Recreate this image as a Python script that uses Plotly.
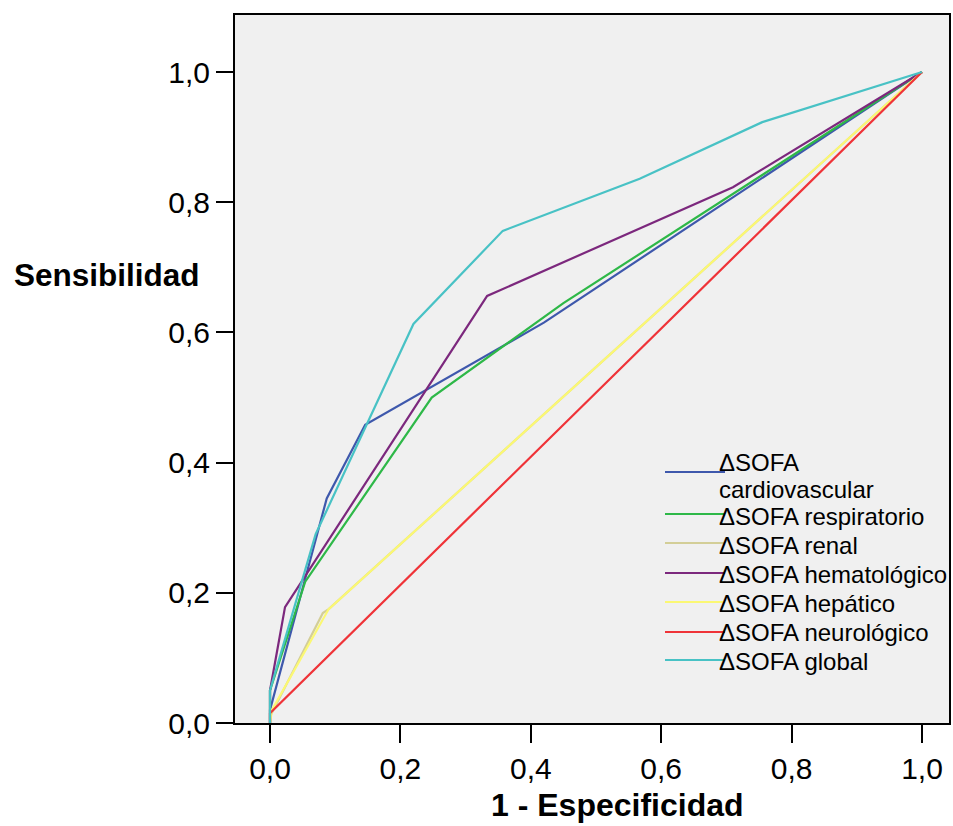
import plotly.graph_objects as go

# ---- data ----
series_names = [
    "ΔSOFA cardiovascular",
    "ΔSOFA respiratorio",
    "ΔSOFA renal",
    "ΔSOFA hematológico",
    "ΔSOFA hepático",
    "ΔSOFA neurológico",
    "ΔSOFA global",
]
legend_labels = [
    ["ΔSOFA", "cardiovascular"],
    ["ΔSOFA respiratorio"],
    ["ΔSOFA renal"],
    ["ΔSOFA hematológico"],
    ["ΔSOFA hepático"],
    ["ΔSOFA neurológico"],
    ["ΔSOFA global"],
]
cardio_x = [0.0, 0.0, 0.087, 0.146, 0.42, 1.0]
cardio_y = [0.0, 0.02, 0.345, 0.458, 0.615, 1.0]

resp_x = [0.0, 0.0, 0.054, 0.248, 0.45, 1.0]
resp_y = [0.0, 0.05, 0.217, 0.50, 0.645, 1.0]

renal_x = [0.0, 0.0, 0.081, 0.09, 1.0]
renal_y = [0.0, 0.01, 0.169, 0.175, 1.0]

hemat_x = [0.0, 0.0, 0.023, 0.333, 0.71, 1.0]
hemat_y = [0.0, 0.05, 0.178, 0.656, 0.823, 1.0]

hepat_x = [0.0, 0.003, 0.09, 1.0]
hepat_y = [0.0, 0.02, 0.175, 1.0]

neuro_x = [0.0, 0.0, 1.0]
neuro_y = [0.0, 0.015, 1.0]

global_x = [0.0, 0.0, 0.07, 0.146, 0.22, 0.357, 0.567, 0.755, 1.0]
global_y = [0.0, 0.05, 0.29, 0.455, 0.613, 0.756, 0.836, 0.923, 1.0]

tick_vals = [0.0, 0.2, 0.4, 0.6, 0.8, 1.0]
tick_text = ["0,0", "0,2", "0,4", "0,6", "0,8", "1,0"]

colors = ["#3E58AC", "#2EB848", "#D3CE97", "#7C287D", "#FBF873", "#EF3338", "#48C2C5"]

xs = [cardio_x, resp_x, renal_x, hemat_x, hepat_x, neuro_x, global_x]
ys = [cardio_y, resp_y, renal_y, hemat_y, hepat_y, neuro_y, global_y]

fig = go.Figure()
for name, x, y, c in zip(series_names, xs, ys, colors):
    fig.add_trace(go.Scatter(x=x, y=y, mode="lines", name=name,
                             line=dict(color=c, width=2.2), showlegend=False))

font_family = "Liberation Sans, Arial, sans-serif"

# figure fills the window (body margin removed in post_script)
W, H = 953, 826
L, T, R, B = 235, 15, 4, 103
pw, ph = W - L - R, H - T - B


def px_x(p):  # screen pixel -> paper x
    return (p - L) / pw


def px_y(p):  # screen pixel -> paper y
    return (H - B - p) / ph


fig.update_layout(
    width=W, height=H,
    margin=dict(l=L, r=R, t=T, b=B, autoexpand=False),
    paper_bgcolor="white",
    plot_bgcolor="#F0F0F0",
    font=dict(family=font_family, color="black"),
    showlegend=False,
)

fig.update_xaxes(
    range=[-0.0537, 1.0414], automargin=False,
    tickvals=tick_vals, ticktext=tick_text,
    ticks="outside", ticklen=18, tickwidth=2, tickcolor="black",
    tickfont=dict(size=30, family=font_family, color="black"),
    showline=True, linecolor="black", linewidth=2, mirror=True,
    showgrid=False, zeroline=False,
)
fig.update_yaxes(
    range=[0.0, 1.0876], automargin=False,
    tickvals=tick_vals, ticktext=tick_text,
    ticks="outside", ticklen=17, tickwidth=2, tickcolor="black",
    tickfont=dict(size=30, family=font_family, color="black"),
    showline=True, linecolor="black", linewidth=2, mirror=True,
    showgrid=False, zeroline=False,
)

fig.add_annotation(
    text="<b>Sensibilidad</b>", xref="paper", yref="paper",
    x=px_x(12), y=px_y(275), xanchor="left", yanchor="middle", showarrow=False,
    font=dict(size=31.5, family=font_family, color="black"),
)
fig.add_annotation(
    text="<b>1 - Especificidad</b>", xref="paper", yref="paper",
    x=px_x(617), y=px_y(805), xanchor="center", yanchor="middle", showarrow=False,
    font=dict(size=32, family=font_family, color="black"),
)

# hand-built legend: line sample y and text-line centre y (screen pixels)
legend_line_y = [472, 514, 543, 573, 602, 632, 660]
legend_text_y = [[462, 489], [516], [545], [574], [603], [632], [661]]
for labels, c, ly, tys in zip(legend_labels, colors, legend_line_y, legend_text_y):
    fig.add_shape(type="line", xref="paper", yref="paper",
                  x0=px_x(665), x1=px_x(725), y0=px_y(ly), y1=px_y(ly),
                  line=dict(color=c, width=2))
    for lab, ty in zip(labels, tys):
        fig.add_annotation(
            text=lab, xref="paper", yref="paper",
            x=px_x(717), y=px_y(ty), xanchor="left", yanchor="middle",
            align="left", showarrow=False,
            font=dict(size=24, family=font_family, color="black"),
        )

fig.write_html(
    "out.html",
    config={"displayModeBar": False},
    post_script="document.body.style.margin='0';document.body.style.overflow='hidden';",
)
